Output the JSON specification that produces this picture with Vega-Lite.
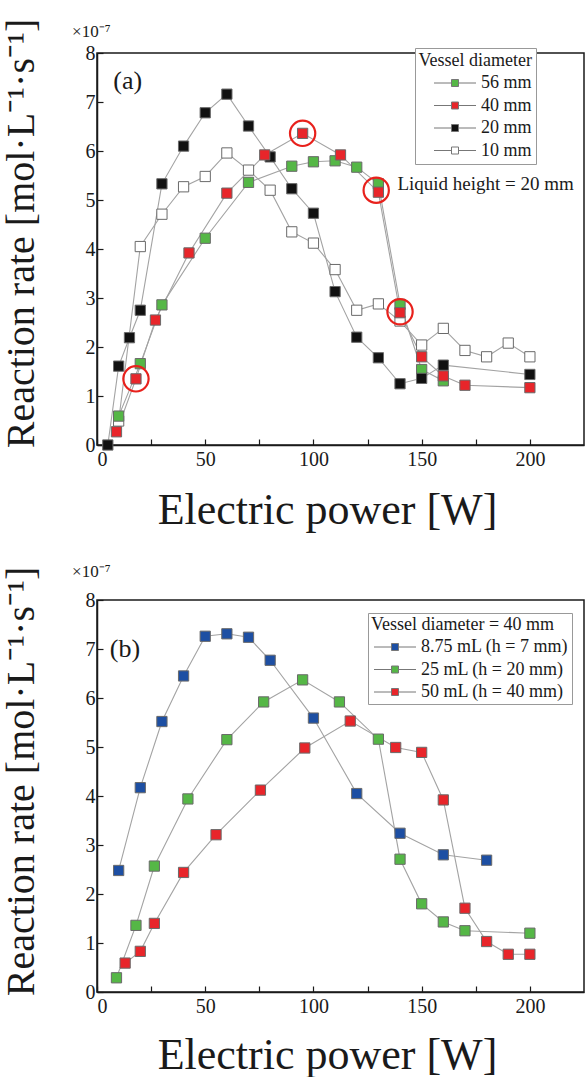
{
  "$schema": "https://vega.github.io/schema/vega-lite/v6.json",
  "padding": {"left": 0, "top": 17, "right": 0, "bottom": 0},
  "background": "white",
  "spacing": 29,
  "resolve": {"scale": {"fill": "independent"}, "legend": {"fill": "independent"}},
  "config": {
    "font": "Liberation Serif",
    "view": {"stroke": "#1a1a1a", "strokeWidth": 1.5},
    "axis": {
      "grid": false, "domainColor": "#1a1a1a", "domainWidth": 1.5,
      "tickColor": "#1a1a1a", "tickWidth": 1.2, "tickSize": -6, "ticks": true,
      "labelFont": "Liberation Serif", "labelFontSize": 20, "labelColor": "#1a1a1a",
      "titleFont": "Liberation Serif", "titleFontWeight": "normal", "titleColor": "#1a1a1a"
    },
    "legend": {
      "titleFont": "Liberation Serif", "titleFontSize": 18, "titleFontWeight": "normal", "titleColor": "#1a1a1a",
      "labelFont": "Liberation Serif", "labelFontSize": 18, "labelColor": "#1a1a1a",
      "symbolType": "M-6,0H-1M1,0H6M-1,-1H1V1H-1Z", "symbolSize": 49,
      "symbolStrokeColor": "#777", "symbolStrokeWidth": 1,
      "strokeColor": "#999", "fillColor": "white",
      "rowPadding": 4.5, "titlePadding": 4, "symbolOffset": 15, "labelOffset": 17,
      "titleLimit": 400, "labelLimit": 400
    }
  },
  "datasets": {
    "a": [
      {"series": "10 mm", "power": 10, "rate": 0.49}, {"series": "10 mm", "power": 20, "rate": 4.05},
      {"series": "10 mm", "power": 30, "rate": 4.71}, {"series": "10 mm", "power": 40, "rate": 5.27},
      {"series": "10 mm", "power": 50, "rate": 5.48}, {"series": "10 mm", "power": 60, "rate": 5.96},
      {"series": "10 mm", "power": 70, "rate": 5.61}, {"series": "10 mm", "power": 80, "rate": 5.2},
      {"series": "10 mm", "power": 90, "rate": 4.35}, {"series": "10 mm", "power": 100, "rate": 4.12},
      {"series": "10 mm", "power": 110, "rate": 3.58}, {"series": "10 mm", "power": 120, "rate": 2.75},
      {"series": "10 mm", "power": 130, "rate": 2.88}, {"series": "10 mm", "power": 140, "rate": 2.53},
      {"series": "10 mm", "power": 150, "rate": 2.04}, {"series": "10 mm", "power": 160, "rate": 2.38},
      {"series": "10 mm", "power": 170, "rate": 1.93}, {"series": "10 mm", "power": 180, "rate": 1.8},
      {"series": "10 mm", "power": 190, "rate": 2.08}, {"series": "10 mm", "power": 200, "rate": 1.8},
      {"series": "56 mm", "power": 10, "rate": 0.59}, {"series": "56 mm", "power": 20, "rate": 1.66},
      {"series": "56 mm", "power": 30, "rate": 2.86}, {"series": "56 mm", "power": 50, "rate": 4.22},
      {"series": "56 mm", "power": 70, "rate": 5.36}, {"series": "56 mm", "power": 90, "rate": 5.69},
      {"series": "56 mm", "power": 100, "rate": 5.78}, {"series": "56 mm", "power": 110, "rate": 5.8},
      {"series": "56 mm", "power": 120, "rate": 5.67}, {"series": "56 mm", "power": 130, "rate": 5.33},
      {"series": "56 mm", "power": 140, "rate": 2.87}, {"series": "56 mm", "power": 150, "rate": 1.54},
      {"series": "56 mm", "power": 160, "rate": 1.31},
      {"series": "20 mm", "power": 5, "rate": 0.0}, {"series": "20 mm", "power": 10, "rate": 1.61},
      {"series": "20 mm", "power": 15, "rate": 2.19}, {"series": "20 mm", "power": 20, "rate": 2.75},
      {"series": "20 mm", "power": 30, "rate": 5.33}, {"series": "20 mm", "power": 40, "rate": 6.1},
      {"series": "20 mm", "power": 50, "rate": 6.78}, {"series": "20 mm", "power": 60, "rate": 7.16},
      {"series": "20 mm", "power": 70, "rate": 6.51}, {"series": "20 mm", "power": 80, "rate": 5.88},
      {"series": "20 mm", "power": 90, "rate": 5.23}, {"series": "20 mm", "power": 100, "rate": 4.73},
      {"series": "20 mm", "power": 110, "rate": 3.13}, {"series": "20 mm", "power": 120, "rate": 2.2},
      {"series": "20 mm", "power": 130, "rate": 1.78}, {"series": "20 mm", "power": 140, "rate": 1.25},
      {"series": "20 mm", "power": 150, "rate": 1.36}, {"series": "20 mm", "power": 160, "rate": 1.63},
      {"series": "20 mm", "power": 200, "rate": 1.44},
      {"series": "40 mm", "power": 9, "rate": 0.27}, {"series": "40 mm", "power": 18, "rate": 1.35},
      {"series": "40 mm", "power": 27, "rate": 2.55}, {"series": "40 mm", "power": 42.5, "rate": 3.92},
      {"series": "40 mm", "power": 60, "rate": 5.14}, {"series": "40 mm", "power": 77.5, "rate": 5.92},
      {"series": "40 mm", "power": 95, "rate": 6.36}, {"series": "40 mm", "power": 112.5, "rate": 5.92},
      {"series": "40 mm", "power": 130, "rate": 5.16}, {"series": "40 mm", "power": 140, "rate": 2.7},
      {"series": "40 mm", "power": 150, "rate": 1.8}, {"series": "40 mm", "power": 160, "rate": 1.41},
      {"series": "40 mm", "power": 170, "rate": 1.22}, {"series": "40 mm", "power": 200, "rate": 1.17}
    ],
    "a_circles": [
      {"power": 18, "rate": 1.35}, {"power": 95, "rate": 6.36},
      {"power": 129, "rate": 5.2}, {"power": 140, "rate": 2.72}
    ],
    "a_label": [{"power": 7.5, "rate": 7.43, "label": "(a)"}],
    "a_note": [{"power": 138.8, "rate": 5.33, "label": "Liquid height = 20 mm"}],
    "a_exp": [{"power": -11.5, "rate": 8.33, "label": "×10⁻⁷"}],
    "b": [
      {"series": "8.75 mL (h = 7 mm)", "power": 10, "rate": 2.48}, {"series": "8.75 mL (h = 7 mm)", "power": 20, "rate": 4.17},
      {"series": "8.75 mL (h = 7 mm)", "power": 30, "rate": 5.52}, {"series": "8.75 mL (h = 7 mm)", "power": 40, "rate": 6.45},
      {"series": "8.75 mL (h = 7 mm)", "power": 50, "rate": 7.26}, {"series": "8.75 mL (h = 7 mm)", "power": 60, "rate": 7.31},
      {"series": "8.75 mL (h = 7 mm)", "power": 70, "rate": 7.24}, {"series": "8.75 mL (h = 7 mm)", "power": 80, "rate": 6.77},
      {"series": "8.75 mL (h = 7 mm)", "power": 100, "rate": 5.59}, {"series": "8.75 mL (h = 7 mm)", "power": 120, "rate": 4.05},
      {"series": "8.75 mL (h = 7 mm)", "power": 140, "rate": 3.24}, {"series": "8.75 mL (h = 7 mm)", "power": 160, "rate": 2.8},
      {"series": "8.75 mL (h = 7 mm)", "power": 180, "rate": 2.69},
      {"series": "25 mL (h = 20 mm)", "power": 9, "rate": 0.29}, {"series": "25 mL (h = 20 mm)", "power": 18, "rate": 1.36},
      {"series": "25 mL (h = 20 mm)", "power": 26.5, "rate": 2.57}, {"series": "25 mL (h = 20 mm)", "power": 42, "rate": 3.94},
      {"series": "25 mL (h = 20 mm)", "power": 60, "rate": 5.15}, {"series": "25 mL (h = 20 mm)", "power": 77, "rate": 5.92},
      {"series": "25 mL (h = 20 mm)", "power": 95, "rate": 6.37}, {"series": "25 mL (h = 20 mm)", "power": 112, "rate": 5.92},
      {"series": "25 mL (h = 20 mm)", "power": 130, "rate": 5.16}, {"series": "25 mL (h = 20 mm)", "power": 140, "rate": 2.71},
      {"series": "25 mL (h = 20 mm)", "power": 150, "rate": 1.8}, {"series": "25 mL (h = 20 mm)", "power": 160, "rate": 1.43},
      {"series": "25 mL (h = 20 mm)", "power": 170, "rate": 1.25}, {"series": "25 mL (h = 20 mm)", "power": 200, "rate": 1.2},
      {"series": "50 mL (h = 40 mm)", "power": 13, "rate": 0.59}, {"series": "50 mL (h = 40 mm)", "power": 20, "rate": 0.83},
      {"series": "50 mL (h = 40 mm)", "power": 26.5, "rate": 1.4}, {"series": "50 mL (h = 40 mm)", "power": 40, "rate": 2.44},
      {"series": "50 mL (h = 40 mm)", "power": 55, "rate": 3.21}, {"series": "50 mL (h = 40 mm)", "power": 75.5, "rate": 4.12},
      {"series": "50 mL (h = 40 mm)", "power": 96, "rate": 4.98}, {"series": "50 mL (h = 40 mm)", "power": 117, "rate": 5.53},
      {"series": "50 mL (h = 40 mm)", "power": 138, "rate": 4.99}, {"series": "50 mL (h = 40 mm)", "power": 150, "rate": 4.89},
      {"series": "50 mL (h = 40 mm)", "power": 160, "rate": 3.92}, {"series": "50 mL (h = 40 mm)", "power": 170, "rate": 1.71},
      {"series": "50 mL (h = 40 mm)", "power": 180, "rate": 1.03}, {"series": "50 mL (h = 40 mm)", "power": 190, "rate": 0.77},
      {"series": "50 mL (h = 40 mm)", "power": 200, "rate": 0.77}
    ],
    "b_label": [{"power": 5.9, "rate": 7.01, "label": "(b)"}],
    "b_exp": [{"power": -11.5, "rate": 8.46, "label": "×10⁻⁷"}]
  },
  "vconcat": [
    {
      "width": 487, "height": 392,
      "encoding": {
        "x": {"field": "power", "type": "quantitative", "scale": {"domain": [0, 225], "nice": false, "zero": false},
          "axis": {"title": "Electric power [W]", "titleFontSize": 44, "titleX": 230, "titleY": 78, "titleAlign": "center", "titleBaseline": "alphabetic",
            "values": [0, 25, 50, 75, 100, 125, 150, 175, 200], "labelExpr": "datum.value % 50 === 0 ? datum.label : ''",
            "labelPadding": 10, "labelBaseline": "top", "format": "d",
            "encode": {"ticks": {"update": {"y2": {"signal": "datum.value % 50 === 0 ? -7 : -4"}}}}}},
        "y": {"field": "rate", "type": "quantitative", "scale": {"domain": [0, 8], "nice": false},
          "axis": {"title": "Reaction rate [mol·L⁻¹·s⁻¹]", "titleFontSize": 40, "titleAngle": 270, "titleX": -64, "titleY": 180, "titleAlign": "center", "titleBaseline": "alphabetic",
            "values": [0, 0.5, 1, 1.5, 2, 2.5, 3, 3.5, 4, 4.5, 5, 5.5, 6, 6.5, 7, 7.5, 8], "format": "d", "labelExpr": "datum.value % 1 === 0 ? datum.label : ''",
            "labelPadding": 8,
            "encode": {"ticks": {"update": {"x2": {"signal": "datum.value % 1 === 0 ? 7 : 4"}}}}}}
      },
      "layer": [
        {"data": {"name": "a"}, "mark": {"type": "line", "color": "#a3a3a3", "strokeWidth": 1.1}, "encoding": {"detail": {"field": "series"}}},
        {"data": {"name": "a"}, "mark": {"type": "point", "shape": "square", "filled": true, "size": 105, "stroke": "#6a6a6a", "strokeWidth": 1, "opacity": 1},
          "encoding": {"fill": {"field": "series", "type": "nominal",
            "scale": {"domain": ["56 mm", "40 mm", "20 mm", "10 mm"], "range": ["#55b746", "#e8252a", "#111111", "#ffffff"]},
            "legend": {"orient": "none", "legendX": 318, "legendY": -5, "padding": 4, "title": "Vessel diameter", "titleAnchor": "end", "symbolType": "M-6,0H-1M1,0H6M-1,-1H1V1H-1Z"}}}},
        {"data": {"name": "a_circles"}, "mark": {"type": "point", "shape": "circle", "filled": false, "stroke": "#e8211c", "strokeWidth": 2.2, "size": 640, "opacity": 1}},
        {"data": {"name": "a_label"}, "mark": {"type": "text", "align": "left", "baseline": "middle", "fontSize": 26, "font": "Liberation Serif", "color": "#1a1a1a"}, "encoding": {"text": {"field": "label"}}},
        {"data": {"name": "a_note"}, "mark": {"type": "text", "align": "left", "baseline": "middle", "fontSize": 19, "font": "Liberation Serif", "color": "#1a1a1a"}, "encoding": {"text": {"field": "label"}}},
        {"data": {"name": "a_exp"}, "mark": {"type": "text", "align": "left", "baseline": "alphabetic", "fontSize": 17, "font": "Liberation Serif", "color": "#1a1a1a"}, "encoding": {"text": {"field": "label"}}}
      ]
    },
    {
      "width": 487, "height": 392,
      "encoding": {
        "x": {"field": "power", "type": "quantitative", "scale": {"domain": [0, 225], "nice": false, "zero": false},
          "axis": {"title": "Electric power [W]", "titleFontSize": 44, "titleX": 230, "titleY": 76, "titleAlign": "center", "titleBaseline": "alphabetic",
            "values": [0, 25, 50, 75, 100, 125, 150, 175, 200], "labelExpr": "datum.value % 50 === 0 ? datum.label : ''",
            "labelPadding": 10, "labelBaseline": "top", "format": "d",
            "encode": {"ticks": {"update": {"y2": {"signal": "datum.value % 50 === 0 ? -7 : -4"}}}}}},
        "y": {"field": "rate", "type": "quantitative", "scale": {"domain": [0, 8], "nice": false},
          "axis": {"title": "Reaction rate [mol·L⁻¹·s⁻¹]", "titleFontSize": 40, "titleAngle": 270, "titleX": -64, "titleY": 181, "titleAlign": "center", "titleBaseline": "alphabetic",
            "values": [0, 0.5, 1, 1.5, 2, 2.5, 3, 3.5, 4, 4.5, 5, 5.5, 6, 6.5, 7, 7.5, 8], "format": "d", "labelExpr": "datum.value % 1 === 0 ? datum.label : ''",
            "labelPadding": 8,
            "encode": {"ticks": {"update": {"x2": {"signal": "datum.value % 1 === 0 ? 7 : 4"}}}}}}
      },
      "layer": [
        {"data": {"name": "b"}, "mark": {"type": "line", "color": "#a3a3a3", "strokeWidth": 1.1}, "encoding": {"detail": {"field": "series"}}},
        {"data": {"name": "b"}, "mark": {"type": "point", "shape": "square", "filled": true, "size": 105, "stroke": "#6a6a6a", "strokeWidth": 1, "opacity": 1},
          "encoding": {"fill": {"field": "series", "type": "nominal",
            "scale": {"domain": ["8.75 mL (h = 7 mm)", "25 mL (h = 20 mm)", "50 mL (h = 40 mm)"], "range": ["#1d4fa3", "#55b746", "#e8252a"]},
            "legend": {"orient": "none", "legendX": 271, "legendY": 13, "padding": 3, "title": "Vessel diameter = 40 mm", "titleAnchor": "start", "symbolType": "M-6,0H-1M1,0H6M-1,-1H1V1H-1Z"}}}},
        {"data": {"name": "b_label"}, "mark": {"type": "text", "align": "left", "baseline": "middle", "fontSize": 26, "font": "Liberation Serif", "color": "#1a1a1a"}, "encoding": {"text": {"field": "label"}}},
        {"data": {"name": "b_exp"}, "mark": {"type": "text", "align": "left", "baseline": "alphabetic", "fontSize": 17, "font": "Liberation Serif", "color": "#1a1a1a"}, "encoding": {"text": {"field": "label"}}}
      ]
    }
  ]
}
